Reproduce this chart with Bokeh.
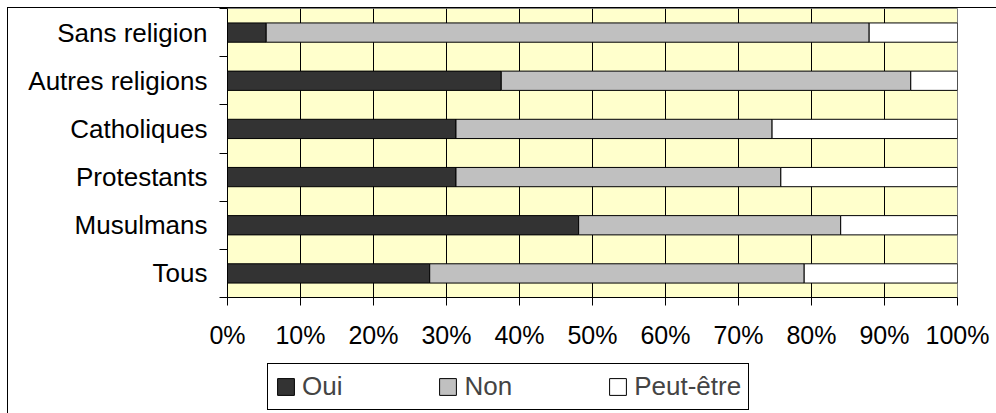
from bokeh.plotting import figure
from bokeh.layouts import column
from bokeh.models import (ColumnDataSource, Range1d, FixedTicker, PrintfTickFormatter,
                          Legend, LegendItem)
from bokeh.embed import file_html
from bokeh.resources import INLINE

# ---- data (bottom to top) ----
categories = ["Tous", "Musulmans", "Protestants", "Catholiques", "Autres religions", "Sans religion"]
oui = [27.7, 48.1, 31.3, 31.3, 37.5, 5.3]
non = [51.3, 35.9, 44.5, 43.3, 56.1, 82.6]
peut = [21.0, 16.0, 24.2, 25.4, 6.4, 12.1]
series = ["Oui", "Non", "Peut-être"]
colors = ["#333333", "#C0C0C0", "#FFFFFF"]
x_ticks = [0, 10, 20, 30, 40, 50, 60, 70, 80, 90, 100]

FONT = "Liberation Sans"
W = 988

ypos = [i + 0.5 for i in range(len(categories))]
src = ColumnDataSource(dict(y=ypos, oui=oui, non=non, peut=peut))

p = figure(width=W, height=355, output_backend="svg", toolbar_location=None,
           x_range=Range1d(0, 100), y_range=Range1d(0, len(categories)),
           min_border_left=219, min_border_right=39, min_border_top=0, min_border_bottom=66)

p.background_fill_color = "#FFFFCC"
p.border_fill_color = "white"
p.outline_line_color = "#808080"
p.outline_line_width = 1

p.hbar_stack(["oui", "non", "peut"], y="y", height=0.4, source=src,
             fill_color=colors, line_color="black", line_width=1)

# x axis
p.xaxis.ticker = FixedTicker(ticks=x_ticks)
p.xaxis.formatter = PrintfTickFormatter(format="%d%%")
p.xaxis.major_tick_out = 8
p.xaxis.major_tick_in = 0
p.xaxis.minor_tick_line_color = None
p.xaxis.axis_line_color = "black"
p.xaxis.major_tick_line_color = "black"
p.xaxis.major_label_text_font = FONT
p.xaxis.major_label_text_font_size = "25px"
p.xaxis.major_label_text_color = "black"
p.xaxis.major_label_standoff = 15

# y axis: labels at centres, tick marks at boundaries
p.yaxis.ticker = FixedTicker(ticks=ypos, minor_ticks=list(range(len(categories) + 1)))
p.yaxis.major_label_overrides = {y: c for y, c in zip(ypos, categories)}
p.yaxis.major_tick_out = 0
p.yaxis.major_tick_in = 0
p.yaxis.minor_tick_out = 8
p.yaxis.minor_tick_in = 0
p.yaxis.minor_tick_line_color = "black"
p.yaxis.axis_line_color = "black"
p.yaxis.major_label_text_font = FONT
p.yaxis.major_label_text_font_size = "26px"
p.yaxis.major_label_text_color = "black"
p.yaxis.major_label_standoff = 12

# grid
p.xgrid.ticker = FixedTicker(ticks=x_ticks[1:-1])
p.xgrid.grid_line_color = "black"
p.xgrid.grid_line_width = 1
p.ygrid.grid_line_color = None

# legend strip (second figure; hidden copies of the series provide the swatches)
q = figure(width=W, height=50, output_backend="svg", toolbar_location=None,
           x_range=Range1d(0, 100), y_range=Range1d(0, len(categories)),
           x_axis_type=None, y_axis_type=None,
           min_border_left=0, min_border_right=0, min_border_top=0, min_border_bottom=0)
q.outline_line_color = None
q.background_fill_color = "white"
q.border_fill_color = "white"
q.xgrid.visible = False
q.ygrid.visible = False
swatches = q.hbar_stack(["oui", "non", "peut"], y="y", height=0.4, source=src,
                        fill_color=colors, line_color="black", line_width=1)
for r in swatches:
    r.visible = False
items = [LegendItem(label=s, renderers=[r]) for s, r in zip(series, swatches)]

legend = Legend(items=items, orientation="horizontal", location=(40, 3),
                border_line_color="black", border_line_width=1, border_line_alpha=1,
                background_fill_color="white", background_fill_alpha=1,
                inactive_fill_alpha=0,
                padding=7, margin=0, spacing=95, label_standoff=6,
                glyph_width=21, glyph_height=21, label_height=17,
                label_text_font=FONT, label_text_font_size="26px")
q.add_layout(legend)

layout = column(p, q, spacing=0)
layout.styles = {"margin-left": "7px", "margin-top": "7px",
                 "border-left": "1px solid black", "border-top": "1px solid black"}

open("out.html", "w").write(file_html(layout, INLINE))
